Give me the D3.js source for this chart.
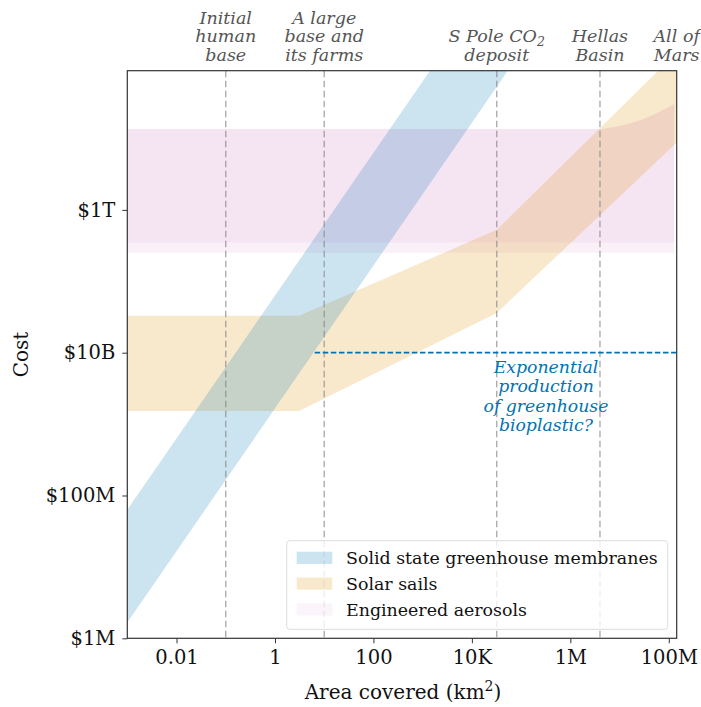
<!DOCTYPE html>
<html>
<head>
<meta charset="utf-8">
<script src="https://cdn.jsdelivr.net/npm/d3@7"></script>
<style>
  html, body { margin: 0; padding: 0; background: #fff; }
  svg { display: block; font-family: "DejaVu Serif", serif; }
</style>
</head>
<body>
<svg id="chart" width="701" height="707"></svg>
<script>
// ---- data -------------------------------------------------------------
// Solid state greenhouse membranes: cost grows in step with area
const membraneArea = [1e-3, 1e5];
const membraneLow  = [1.66e6, 1.66e14];
const membraneHigh = [6.3e7, 6.3e15];

// Solar sails: fixed cost for small areas, then rising
const sailArea = [1e-3, 3.1, 3.2e4, 1.448e8];
const sailLow  = [1.53e9, 1.53e9, 3.6e10, 8.8e12];
const sailHigh = [3.3e10, 3.3e10, 5.25e11, 1.6e14];

// Engineered aerosols: roughly flat cost, rising near planetary scale
const aerosolArea = [1e-3, 4.0e6, 8.7e6, 2.2e7, 5.7e7, 1.29e8];
const aerosolLow  = [3.48e11, 3.48e11, 3.48e11, 3.48e11, 3.48e11, 3.48e11];
const aerosolHigh = [1.36e13, 1.36e13, 1.47e13, 1.73e13, 2.26e13, 3.03e13];
const aerosolFaintLow  = 2.52e11;
const aerosolFaintHigh = 3.48e11;

// Reference areas (km²) marked by vertical lines
const landmarkArea   = [0.1, 10, 3.2e4, 4.0e6, 1.448e8];
const landmarkLabels = [
  ["Initial", "human", "base"],
  ["A large", "base and", "its farms"],
  ["S Pole CO\u2082", "deposit"],
  ["Hellas", "Basin"],
  ["All of", "Mars"]
];
const landmarkLine = [true, true, true, true, false];

// Bioplastic threshold line
const bioplasticCost = 1e10;
const bioplasticStart = 6.4;
const bioplasticLabelArea = 3.2e5;
const bioplasticLabel = ["Exponential", "production", "of greenhouse", "bioplastic?"];

// Axis ticks
const xTickValues = [1e-2, 1, 1e2, 1e4, 1e6, 1e8];
const xTickLabels = ["0.01", "1", "100", "10K", "1M", "100M"];
const yTickValues = [1e6, 1e8, 1e10, 1e12];
const yTickLabels = ["$1M", "$100M", "$10B", "$1T"];

const seriesNames = ["Solid state greenhouse membranes", "Solar sails", "Engineered aerosols"];
const colBlue = "#0173b2", colOrange = "#de8f05", colPink = "#cc78bc";

// ---- layout -----------------------------------------------------------
const svg = d3.select("#chart");
const plotLeft = 127.3, plotRight = 676.7, plotTop = 70.7, plotBottom = 638.3;

const x = d3.scaleLog().domain([1e-3, 1.448e8]).range([plotLeft, plotRight]);
const y = d3.scaleLog().domain([1e6, 8.9e13]).range([plotBottom, plotTop]);

svg.append("defs").append("clipPath").attr("id", "plotclip")
  .append("rect").attr("x", plotLeft).attr("y", plotTop)
  .attr("width", plotRight - plotLeft).attr("height", plotBottom - plotTop);

const plot = svg.append("g").attr("clip-path", "url(#plotclip)");

function band(areas, lows, highs, color, alpha, curve) {
  const pts = areas.map((a, i) => ({a, lo: lows[i], hi: highs[i]}));
  const gen = d3.area()
    .x(d => x(d.a)).y0(d => y(d.lo)).y1(d => y(d.hi))
    .curve(curve || d3.curveLinear);
  plot.append("path").datum(pts).attr("d", gen)
    .attr("fill", color).attr("fill-opacity", alpha);
}

// aerosols
band([aerosolArea[0], aerosolArea[aerosolArea.length - 1]],
     [aerosolFaintLow, aerosolFaintLow], [aerosolFaintHigh, aerosolFaintHigh],
     colPink, 0.1);
band(aerosolArea, aerosolLow, aerosolHigh, colPink, 0.2, d3.curveMonotoneX);
// solar sails
band(sailArea, sailLow, sailHigh, colOrange, 0.2);
// membranes
band(membraneArea, membraneLow, membraneHigh, colBlue, 0.2);

// vertical landmark lines
landmarkArea.forEach((a, i) => {
  if (!landmarkLine[i]) return;
  plot.append("line")
    .attr("x1", x(a)).attr("x2", x(a)).attr("y1", plotTop).attr("y2", plotBottom)
    .attr("stroke", "#888").attr("stroke-opacity", 0.75)
    .attr("stroke-width", 1.3).attr("stroke-dasharray", "6.5,3.5");
});

// bioplastic threshold
plot.append("line")
  .attr("x1", x(bioplasticStart)).attr("x2", plotRight)
  .attr("y1", y(bioplasticCost)).attr("y2", y(bioplasticCost))
  .attr("stroke", colBlue).attr("stroke-width", 1.8)
  .attr("stroke-dasharray", "5.5,2.6");

const ann = svg.append("text")
  .attr("text-anchor", "middle").attr("font-style", "italic")
  .attr("font-size", 17.3).attr("fill", colBlue);
bioplasticLabel.forEach((t, i) => {
  ann.append("tspan").attr("x", x(bioplasticLabelArea))
    .attr("y", y(bioplasticCost) + 20 + i * 19.6).text(t);
});

// landmark labels above plot
landmarkArea.forEach((a, i) => {
  const lines = landmarkLabels[i];
  const t = svg.append("text").attr("text-anchor", "middle")
    .attr("font-style", "italic").attr("font-size", 17.5).attr("fill", "#555");
  const base = 60.5 - (lines.length - 1) * 18.5;
  lines.forEach((s, j) => {
    const ts = t.append("tspan").attr("x", x(a)).attr("y", base + j * 18.5);
    const m = s.match(/^(.*CO)\u2082$/);
    if (m) {
      ts.text(m[1]);
      t.append("tspan").attr("font-size", 12.5).attr("dy", 4).text("2");
    } else {
      ts.text(s);
    }
  });
});

// axes
const xAxis = d3.axisBottom(x).tickValues(xTickValues)
  .tickFormat((d, i) => xTickLabels[i]).tickSize(5).tickPadding(7);
const yAxis = d3.axisLeft(y).tickValues(yTickValues)
  .tickFormat((d, i) => yTickLabels[i]).tickSize(5).tickPadding(7);

const gx = svg.append("g").attr("transform", `translate(0,${plotBottom})`).call(xAxis);
const gy = svg.append("g").attr("transform", `translate(${plotLeft},0)`).call(yAxis);
[gx, gy].forEach(g => {
  g.select(".domain").remove();
  g.selectAll(".tick line").attr("stroke", "#333").attr("stroke-width", 1);
  g.selectAll(".tick text").attr("font-family", "DejaVu Serif")
    .attr("font-size", 19.5).attr("fill", "#111");
});

// frame
svg.append("rect").attr("x", plotLeft).attr("y", plotTop)
  .attr("width", plotRight - plotLeft).attr("height", plotBottom - plotTop)
  .attr("fill", "none").attr("stroke", "#333").attr("stroke-width", 1.2);

// axis titles
const xt = svg.append("text").attr("x", (plotLeft + plotRight) / 2 + 1).attr("y", 699)
  .attr("text-anchor", "middle").attr("font-size", 20).attr("fill", "#111");
xt.append("tspan").text("Area covered (km");
xt.append("tspan").attr("font-size", 14).attr("dy", -8).text("2");
xt.append("tspan").attr("dy", 8).text(")");

svg.append("text")
  .attr("transform", `translate(28,${(plotTop + plotBottom) / 2}) rotate(-90)`)
  .attr("text-anchor", "middle").attr("font-size", 20).attr("fill", "#111")
  .text("Cost");

// legend
const lg = svg.append("g");
lg.append("rect").attr("x", 286.7).attr("y", 540.7)
  .attr("width", 381).attr("height", 88.6).attr("rx", 3)
  .attr("fill", "#fff").attr("fill-opacity", 0.8)
  .attr("stroke", "#ddd").attr("stroke-width", 1);
const swatchCols = [colBlue, colOrange, colPink];
const swatchAlpha = [0.2, 0.2, 0.08];
seriesNames.forEach((name, i) => {
  const yy = 551.7 + i * 25.8;
  lg.append("rect").attr("x", 296.7).attr("y", yy)
    .attr("width", 35.6).attr("height", 12.2)
    .attr("fill", swatchCols[i]).attr("fill-opacity", swatchAlpha[i]);
  lg.append("text").attr("x", 346).attr("y", yy + 12.5)
    .attr("font-size", 17.4).attr("fill", "#111").text(name);
});
</script>
</body>
</html>
